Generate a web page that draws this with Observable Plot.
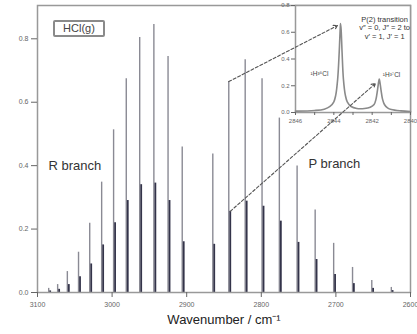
<!DOCTYPE html>
<html><head><meta charset="utf-8">
<script src="https://cdn.jsdelivr.net/npm/d3@7"></script>
<script src="https://cdn.jsdelivr.net/npm/@observablehq/plot@0.6"></script>
<style>
body{margin:0;background:#fff;}
#wrap{position:relative;width:417px;height:334px;overflow:hidden;font-family:"Liberation Sans",Arial,sans-serif;background:#fff;}
#wrap svg{position:absolute;}
#box{position:absolute;left:53px;top:20px;width:48px;height:13px;border:2px solid #8a8a8a;border-radius:2px;font-size:11px;line-height:13px;text-align:center;color:#444;background:#fff;}
</style></head><body><div id="wrap"></div>
<script>
// ---- data ----
// H35Cl lines (R branch R(0)..R(11), P branch P(1)..P(11))
const wave35 = [2906, 2925, 2944, 2963, 2981, 2998, 3014, 3030, 3045, 3060, 3073, 3085,
                2865, 2843.6, 2821.6, 2799, 2775.8, 2752, 2727.8, 2703, 2677.7, 2651.9, 2625.7];
const abs35  = [0.459, 0.744, 0.845, 0.804, 0.674, 0.513, 0.348, 0.218, 0.127, 0.066, 0.025, 0.013,
                0.437, 0.665, 0.734, 0.674, 0.55, 0.399, 0.26, 0.155, 0.079, 0.038, 0.016];
// H37Cl lines
const wave37 = [2904, 2923, 2942, 2961, 2979, 2996, 3012, 3028, 3043, 3058, 3071, 3083,
                2863.1, 2841.6, 2819.6, 2797, 2773.8, 2750.1, 2725.9, 2701.1, 2675.9, 2650.1, 2624];
const abs37  = [0.16, 0.29, 0.345, 0.34, 0.29, 0.22, 0.15, 0.09, 0.05, 0.025, 0.01, 0.005,
                0.152, 0.256, 0.288, 0.272, 0.225, 0.158, 0.104, 0.057, 0.028, 0.013, 0.006];
// inset: P(2) transition spectrum
const insetWave = [2846, 2845, 2844.5, 2844.2, 2844.0, 2843.9, 2843.8, 2843.72, 2843.67, 2843.65, 2843.62, 2843.57, 2843.5, 2843.4, 2843.3, 2843.1, 2842.8, 2842.4, 2842.1, 2841.9, 2841.8, 2841.72, 2841.66, 2841.63, 2841.6, 2841.54, 2841.46, 2841.36, 2841.2, 2841.0, 2840.5, 2840];
const insetAbs  = [0.01, 0.015, 0.025, 0.045, 0.08, 0.13, 0.25, 0.45, 0.62, 0.665, 0.62, 0.45, 0.25, 0.13, 0.08, 0.045, 0.03, 0.03, 0.04, 0.06, 0.1, 0.17, 0.23, 0.25, 0.23, 0.17, 0.1, 0.06, 0.035, 0.022, 0.012, 0.008];
const xTicks = [3100, 3000, 2900, 2800, 2700, 2600];
const yTicks = [0, 0.2, 0.4, 0.6, 0.8];
const insetXTicks = [2846, 2845, 2844, 2843, 2842, 2841, 2840];
const insetYTicks = [0, 0.2, 0.4, 0.6, 0.8];
const branchLabels = ["R branch", "P branch"];
const branchWave = [3085.3, 2736.7];
const branchAbs = [0.40, 0.407];
const isoLabels = ["¹H³⁵Cl", "¹H³⁷Cl"];
const isoWave = [2844.75, 2840.99];
const isoAbs = [0.29, 0.284];
const noteText = "P(2) transition\nv″ = 0, J″ = 2 to\nv′ = 1, J′ = 1";
const xLabel = "Wavenumber / cm⁻¹";
const titleBox = "HCl(g)";
// arrows: from main P(2) lines to inset peaks
const arrowFromWave = [2843.6, 2841.6];
const arrowFromAbs = [0.665, 0.256];
const arrowToWave = [2843.81, 2841.83];
const arrowToAbs = [0.65, 0.217];

// ---- build ----
const font = "Liberation Sans, Arial, sans-serif";
const lines35 = wave35.map((w, i) => ({w, h: abs35[i]}));
const lines37 = wave37.map((w, i) => ({w, h: abs37[i]}));
const insetPts = insetWave.map((w, i) => ({w, a: insetAbs[i]}));
const branch = branchLabels.map((t, i) => ({t, w: branchWave[i], h: branchAbs[i]}));
const iso = isoLabels.map((t, i) => ({t, w: isoWave[i], a: isoAbs[i]}));

const W = 417, H = 334;
const mainOpts = {
  width: W, height: H, marginLeft: 37, marginRight: 7, marginTop: 5, marginBottom: 42,
  style: {fontFamily: font, background: "transparent", overflow: "visible"}
};
const main = Plot.plot({
  ...mainOpts,
  x: {domain: [3100, 2600], label: null},
  y: {domain: [0, 0.905], label: null},
  marks: [
    Plot.ruleX(lines35, {x: "w", y1: 0, y2: "h", stroke: "#8a8a94", strokeWidth: 1.4}),
    Plot.ruleX(lines37, {x: "w", y1: 0, y2: "h", stroke: "#34344a", strokeWidth: 1.8}),
    Plot.ruleY([0], {stroke: "#777", strokeWidth: 1.2}),
    Plot.frame({stroke: "#999", strokeWidth: 1.5}),
    Plot.axisX({ticks: xTicks, tickSize: 5, tickPadding: 5, fontSize: 7, color: "#666", label: null, tickFormat: d => String(d)}),
    Plot.axisY({ticks: yTicks, tickSize: 6, tickPadding: 3, fontSize: 7, color: "#666", label: null, tickFormat: d3.format(".1f")}),
    Plot.text(branch, {x: "w", y: "h", text: "t", textAnchor: "start", lineAnchor: "middle", fontSize: 13, fill: "#333"}),
    Plot.text([xLabel], {frameAnchor: "bottom", dy: 31, fontSize: 13, fill: "#222"})
  ]
});
main.style.left = "0px"; main.style.top = "0px";

const insetLeft = 269, insetTop = 0;
const inset = Plot.plot({
  width: 147, height: 134, marginLeft: 26, marginRight: 6, marginTop: 5, marginBottom: 22,
  x: {domain: [2846, 2840], label: null},
  y: {domain: [0, 0.8], label: null},
  style: {fontFamily: font, background: "transparent", overflow: "visible"},
  marks: [
    Plot.frame({fill: "white", stroke: "#999", strokeWidth: 1.5}),
    Plot.line(insetPts, {x: "w", y: "a", curve: "catmull-rom", stroke: "#8a8a8a", strokeWidth: 1.6}),
    Plot.axisX({ticks: insetXTicks, tickSize: 3, tickPadding: 3, fontSize: 6, color: "#666", label: null, tickFormat: d => d % 2 === 0 ? String(d) : ""}),
    Plot.axisY({ticks: insetYTicks, tickSize: 4, tickPadding: 2, fontSize: 6, color: "#666", label: null, tickFormat: d3.format(".1f")}),
    Plot.text(iso, {x: "w", y: "a", text: "t", fontSize: 6.5, fill: "#444"}),
    Plot.text([noteText], {x: 2841.35, y: 0.72, lineAnchor: "top", fontSize: 7.5, lineHeight: 1.1, fill: "#333"})
  ]
});
inset.style.left = insetLeft + "px"; inset.style.top = insetTop + "px";

// arrow endpoints in main coordinates (mapped through the inset scales)
const mx = main.scale("x"), my = main.scale("y");
const ix = inset.scale("x"), iy = inset.scale("y");
const arrows = arrowFromWave.map((w, i) => ({
  x1: w, y1: arrowFromAbs[i],
  x2: mx.invert(insetLeft + ix.apply(arrowToWave[i])),
  y2: my.invert(insetTop + iy.apply(arrowToAbs[i]))
}));
const over = Plot.plot({
  ...mainOpts,
  x: {domain: [3100, 2600], axis: null},
  y: {domain: [0, 0.905], axis: null},
  marks: [
    Plot.arrow(arrows, {x1: "x1", y1: "y1", x2: "x2", y2: "y2", stroke: "#555", strokeWidth: 1.1, strokeDasharray: "3,2", headLength: 6})
  ]
});
over.style.left = "0px"; over.style.top = "0px"; over.style.pointerEvents = "none";

const wrap = document.getElementById("wrap");
wrap.appendChild(main);
wrap.appendChild(inset);
wrap.appendChild(over);
const box = document.createElement("div");
box.id = "box"; box.textContent = titleBox;
wrap.appendChild(box);
</script></body></html>
